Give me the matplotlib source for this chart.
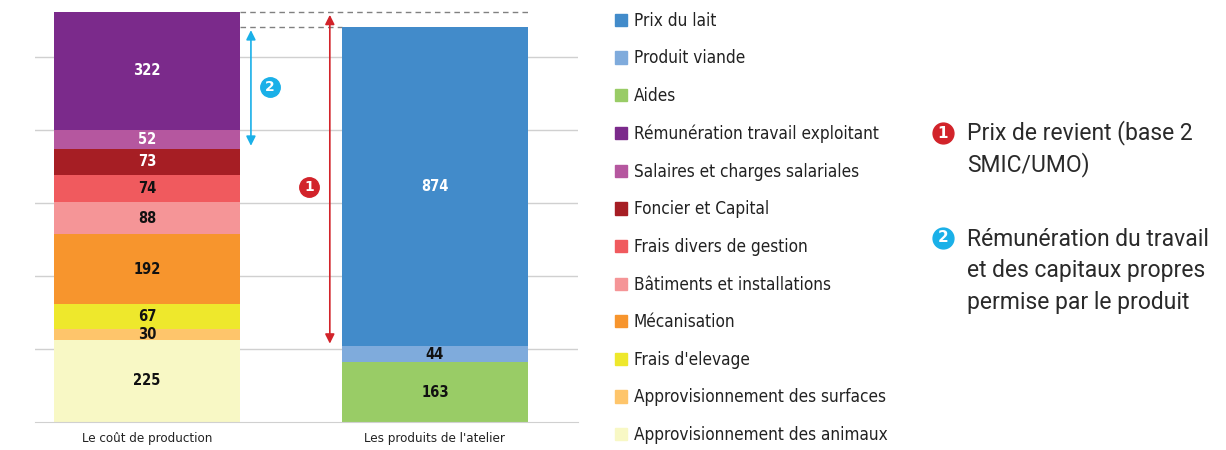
import matplotlib.pyplot as plt
from matplotlib.patches import Patch

# data
bars = ["Le coût de production", "Les produits de l'atelier"]

cost_labels = ["Approvisionnement des animaux", "Approvisionnement des surfaces", "Frais d'elevage",
               "Mécanisation", "Bâtiments et installations", "Frais divers de gestion",
               "Foncier et Capital", "Salaires et charges salariales", "Rémunération travail exploitant"]
cost_values = [225, 30, 67, 192, 88, 74, 73, 52, 322]
cost_colors = ["#f8f8c5", "#fec56b", "#eee82c", "#f7952d", "#f59597", "#f05a5e",
               "#a61e24", "#b5579f", "#7b2a8b"]

prod_labels = ["Aides", "Produit viande", "Prix du lait"]
prod_values = [163, 44, 874]
prod_colors = ["#99cc66", "#7fabdc", "#428bca"]

white_text = ["#7b2a8b", "#b5579f", "#a61e24", "#428bca"]

plt.rcParams['font.family'] = ['DejaVu Sans']
cond = dict(fontstretch='condensed')

fig = plt.figure(figsize=(12.26, 4.5), dpi=100)
ax = fig.add_axes([35 / 1226, 28 / 450, 543 / 1226, 422 / 450])
width = 0.646

def stack(xpos, values, colors):
    bottom = 0
    for v, c in zip(values, colors):
        ax.bar(xpos, v, width, bottom=bottom, color=c, zorder=2)
        tc = "white" if c in white_text else "#111111"
        ax.text(xpos, bottom + v / 2, str(v), ha="center", va="center", fontsize=10.5,
                fontweight="bold", color=tc, zorder=3, **cond)
        bottom += v
    return bottom

top_cost = stack(0, cost_values, cost_colors)
top_prod = stack(1, prod_values, prod_colors)

ax.set_xlim(-0.389, 1.497)
ax.set_ylim(0, 1156)
ax.set_yticks([200, 400, 600, 800, 1000])
ax.yaxis.grid(True, color="#d0d0d0", linewidth=1, zorder=0)
ax.tick_params(left=False, labelleft=False, bottom=False)
for s in ["top", "right", "left"]:
    ax.spines[s].set_visible(False)
ax.spines["bottom"].set_color("#d0d0d0")
ax.set_xticks([0, 1])
ax.set_xticklabels(bars, fontsize=9.5, color="#222222", **cond)

# dashed reference lines
h = width / 2
ax.plot([h, 1 + h], [top_cost, top_cost], ls="--", color="#808080", lw=1, dashes=(4, 3), zorder=1)
ax.plot([h, 1 - h], [top_prod, top_prod], ls="--", color="#808080", lw=1, dashes=(4, 3), zorder=1)

# arrows
base_prod = prod_values[0] + prod_values[1]
ax.annotate("", xy=(0.635, top_cost), xytext=(0.635, base_prod),
            arrowprops=dict(arrowstyle="<|-|>", color="#d2232a", lw=1.2, mutation_scale=14))
low_cost = sum(cost_values[:-2])
ax.annotate("", xy=(0.361, top_prod), xytext=(0.361, low_cost),
            arrowprops=dict(arrowstyle="<|-|>", color="#1ab0e8", lw=1.2, mutation_scale=14))

def badge(x, y, n, color, a=ax, trans=None, size=14, fs=10):
    kw = {} if trans is None else {"transform": trans}
    a.plot([x], [y], marker="o", markersize=size, color=color, zorder=4, clip_on=False, **kw)
    a.text(x, y, n, ha="center", va="center", color="white", fontsize=fs, fontweight="bold",
           zorder=5, **kw)

badge(0.427, 917, "2", "#1ab0e8")
badge(0.5625, 644, "1", "#d2232a")

# legend
handles = [Patch(color=c) for c in prod_colors[::-1]] + [Patch(color=c) for c in cost_colors[::-1]]
labels = prod_labels[::-1] + cost_labels[::-1]
leg = fig.legend(handles, labels, loc="upper left", bbox_to_anchor=(608 / 1226, 1 - 5 / 450),
                 frameon=False, fontsize=12.3, handlelength=0.72, handleheight=0.72,
                 handletextpad=0.4, labelspacing=1.148, borderaxespad=0)
for t in leg.get_texts():
    t.set_fontstretch("condensed")
    t.set_color("#222222")

# side notes
badge(943 / 1226, 1 - 133 / 450, "1", "#d2232a", trans=fig.transFigure, size=15, fs=11)
badge(943 / 1226, 1 - 238 / 450, "2", "#1ab0e8", trans=fig.transFigure, size=15, fs=11)
note = dict(fontsize=16.5, color="#2a2a2a", family="Roboto", va="center", ha="left")
fig.text(967 / 1226, 1 - 133 / 450, "Prix de revient (base 2", **note)
fig.text(967 / 1226, 1 - 165 / 450, "SMIC/UMO)", **note)
fig.text(967 / 1226, 1 - 240 / 450, "Rémunération du travail", **note)
fig.text(967 / 1226, 1 - 271 / 450, "et des capitaux propres", **note)
fig.text(967 / 1226, 1 - 302 / 450, "permise par le produit", **note)

fig.savefig("out.png", dpi=100)
